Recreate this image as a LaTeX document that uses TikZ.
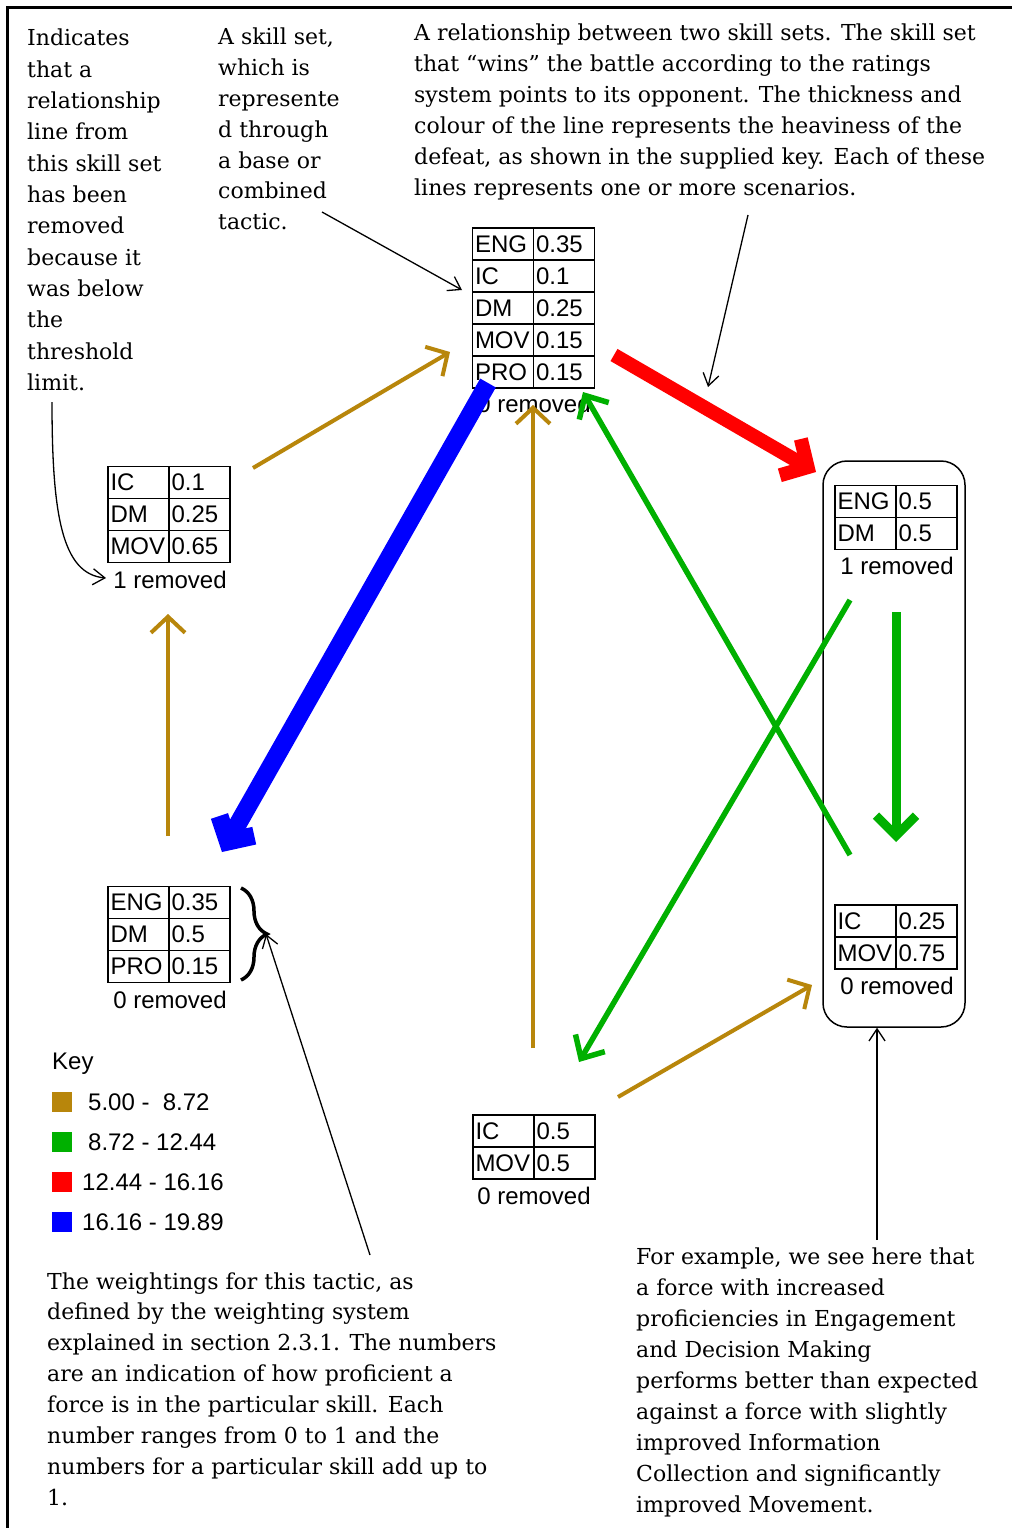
\documentclass[tikz,border=0pt]{standalone}
\usepackage{fontspec}
\setmainfont{DejaVu Serif}
\newfontfamily\tabfont{Liberation Sans}
\usetikzlibrary{arrows.meta,matrix,decorations.pathreplacing}
\definecolor{cgold}{RGB}{184,134,11}
\definecolor{cgreen}{RGB}{0,176,0}
\definecolor{cred}{RGB}{255,0,0}
\definecolor{cblue}{RGB}{0,0,255}
\newcommand\annfont{\fontsize{22}{31}\selectfont}
\newcommand\tabsize{\tabfont\fontsize{24}{26}\selectfont}
\begin{document}
\begin{tikzpicture}[x=1pt,y=-1pt,
  skilltab/.style={matrix of nodes, inner sep=0pt, row sep=-1.8pt, column sep=-1.8pt,
    nodes={draw, line width=1.8pt, minimum height=32pt, text width=56pt, inner sep=2.5pt, align=left, font=\tabsize}},
  rem/.style={font=\tabsize, inner sep=0pt},
  note/.style={anchor=base west, inner sep=0pt, font=\annfont},
  keysq/.style={minimum width=20pt, minimum height=20pt, inner sep=0pt},
  keylbl/.style={anchor=west, inner sep=0pt, font=\tabsize},
  thinarr/.style={line width=1.3pt, -{Straight Barb[length=12pt,width=16pt]}},
  goldarr/.style={cgold, line width=4pt, -{Straight Barb[length=16pt,width=34pt]}},
  greenarr/.style={cgreen, line width=5.5pt, -{Straight Barb[length=18pt,width=34pt]}},
  greenthick/.style={cgreen, line width=9pt, -{Straight Barb[length=20pt,width=40pt]}},
  redarr/.style={cred, line width=14pt, -{Straight Barb[length=20pt,width=42pt]}},
  bluearr/.style={cblue, line width=18pt, -{Straight Barb[length=18pt,width=40pt]}},
]
\useasboundingbox (0,0) rectangle (1012,1528);
\fill[white] (0,0) rectangle (1012,1528);
\draw[line width=3pt] (7.5,1528) -- (7.5,7.5) -- (1012,7.5);

% annotation texts
\node[note] (n1) at (27,46) {\parbox[t]{250pt}{\fontsize{22}{31.3}\selectfont\raggedright Indicates\\that a\\relationship\\line from\\this skill set\\has been\\removed\\because it\\was below\\the\\threshold\\limit.}};
\node[note] (n2) at (218,45) {\parbox[t]{250pt}{\fontsize{22}{30.8}\selectfont\raggedright A skill set,\\which is\\represente\\d through\\a base or\\combined\\tactic.}};
\node[note] (n3) at (414,40.5) {\parbox[t]{700pt}{\fontsize{22}{31}\selectfont\raggedright A relationship between two skill sets. The skill set\\that “wins” the battle according to the ratings\\system points to its opponent. The thickness and\\colour of the line represents the heaviness of the\\defeat, as shown in the supplied key. Each of these\\lines represents one or more scenarios.}};
\node[note] (n4) at (47,1289) {\parbox[t]{600pt}{\fontsize{22}{30.9}\selectfont\raggedright The weightings for this tactic, as\\defined by the weighting system\\explained in section 2.3.1. The numbers\\are an indication of how proficient a\\force is in the particular skill. Each\\number ranges from 0 to 1 and the\\numbers for a particular skill add up to\\1.}};
\node[note] (n5) at (636,1264) {\parbox[t]{500pt}{\fontsize{22}{31}\selectfont\raggedright For example, we see here that\\a force with increased\\proficiencies in Engagement\\and Decision Making\\performs better than expected\\against a force with slightly\\improved Information\\Collection and significantly\\improved Movement.}};

% group box
\node[draw, line width=1.5pt, rounded corners=24pt, minimum width=142pt, minimum height=566pt, inner sep=0pt] (grp) at (894,744) {};

% skill tables
\matrix (t1) [skilltab] at (533.5,308) {ENG & 0.35\\ IC & 0.1\\ DM & 0.25\\ MOV & 0.15\\ PRO & 0.15\\};
\node[rem] (r1) at (534,404) {0 removed};
\matrix (t2) [skilltab] at (169,514.5) {IC & 0.1\\ DM & 0.25\\ MOV & 0.65\\};
\node[rem] (r2) at (170,580) {1 removed};
\matrix (t3) [skilltab] at (169,934.5) {ENG & 0.35\\ DM & 0.5\\ PRO & 0.15\\};
\node[rem] (r3) at (170,1000) {0 removed};
\matrix (t4) [skilltab] at (534,1147) {IC & 0.5\\ MOV & 0.5\\};
\node[rem] (r4) at (534,1196) {0 removed};
\matrix (t5) [skilltab] at (896,517.5) {ENG & 0.5\\ DM & 0.5\\};
\node[rem] (r5) at (897,566) {1 removed};
\matrix (t6) [skilltab] at (896,937) {IC & 0.25\\ MOV & 0.75\\};
\node[rem] (r6) at (897,986) {0 removed};

% brace
\draw[line width=3.5pt, decorate, decoration={brace, amplitude=26pt}] (241,888) -- (241,980);
\coordinate (bt) at (266,934);

% key
\node[keylbl] (key) at (52,1064) {Key};
\node[keysq, fill=cgold] (k1) at (62,1102) {};
\node[keysq, fill=cgreen] (k2) at (62,1142) {};
\node[keysq, fill=cred] (k3) at (62,1182) {};
\node[keysq, fill=cblue] (k4) at (62,1222) {};
\node[keylbl] (kl1) at (88,1102) {5.00 -\ \ 8.72};
\node[keylbl] (kl2) at (88,1142) {8.72 - 12.44};
\node[keylbl] (kl3) at (82,1182) {12.44 - 16.16};
\node[keylbl] (kl4) at (82,1222) {16.16 - 19.89};

% connector end points
\coordinate (g1s) at (253,468);  \coordinate (g1e) at (450,352);
\coordinate (g2s) at (168,836);  \coordinate (g2e) at (168,614);
\coordinate (b1s) at (488,383);  \coordinate (b1e) at (222,852);
\coordinate (rd1s) at (614,355); \coordinate (rd1e) at (816,472);
\coordinate (g3s) at (533,1048); \coordinate (g3e) at (533,405);
\coordinate (gr1s) at (850,855); \coordinate (gr1e) at (583,392);
\coordinate (gr2s) at (850,600); \coordinate (gr2e) at (579,1062);
\coordinate (gr3s) at (896,612); \coordinate (gr3e) at (896,842);
\coordinate (g4s) at (618,1097); \coordinate (g4e) at (812,985);

% relationship arrows
\draw[goldarr] (g1s) -- (g1e);
\draw[goldarr] (g2s) -- (g2e);
\draw[goldarr] (g3s) -- (g3e);
\draw[goldarr] (g4s) -- (g4e);
\draw[greenarr] (gr1s) -- (gr1e);
\draw[greenarr] (gr2s) -- (gr2e);
\draw[greenthick] (gr3s) -- (gr3e);
\draw[redarr] (rd1s) -- (rd1e);
\draw[bluearr] (b1s) -- (b1e);

% annotation pointers
\coordinate (pa) at (322,212); \coordinate (pae) at (462,290);
\coordinate (pb) at (748,215); \coordinate (pbe) at (708,387);
\coordinate (pc) at (52,402);  \coordinate (pce) at (106,578);
\coordinate (pd) at (370,1255);
\coordinate (pe) at (877,1240);
\draw[thinarr] (pa) -- (pae);
\draw[thinarr] (pb) -- (pbe);
\draw[thinarr] (pc) .. controls (52,515) and (62,574) .. (pce);
\draw[thinarr] (pd) -- (bt);
\draw[thinarr] (pe) -- (grp.south -| pe);
\end{tikzpicture}
\end{document}
